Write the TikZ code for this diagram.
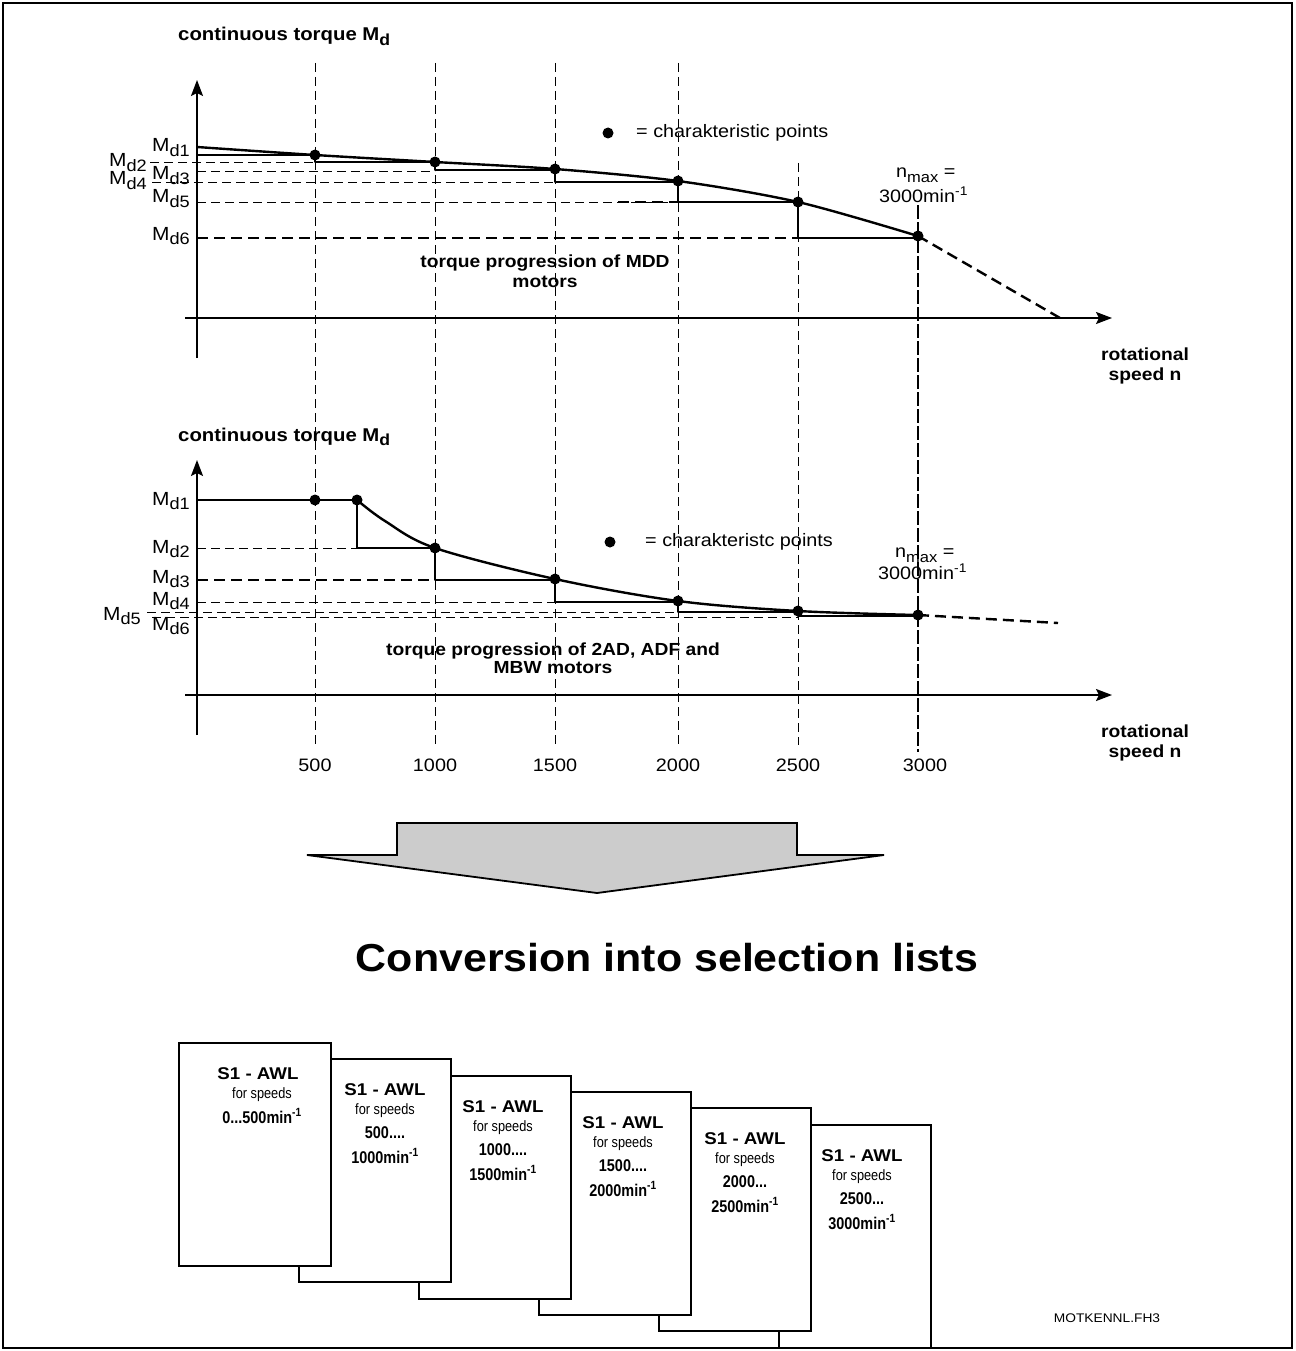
\documentclass[tikz,border=0pt]{standalone}
\usepackage{fontspec}
\setmainfont[FakeStretch=1.1]{Liberation Sans}
\newfontfamily\narrowfont[FakeStretch=0.85]{Liberation Sans}
\usetikzlibrary{arrows.meta}
\newcommand{\fs}[1]{\fontsize{#1}{#1}\selectfont}
\newcommand{\mlab}[1]{M\raisebox{-4.5pt}{\fs{16.5}#1}}
\newcommand{\mnone}{\textsuperscript{-1}}
\begin{document}
\begin{tikzpicture}[x=1pt,y=-1pt,
  txt/.style={font=\fs{18}, inner sep=0pt},
  mtxt/.style={font=\fs{19}, inner sep=0pt},
  btxt/.style={font=\bfseries\fs{17.5}, inner sep=0pt},
  tdash/.style={line width=0.85pt, dash pattern=on 9pt off 5pt},
  kdash/.style={line width=2.4pt, dash pattern=on 11pt off 6pt},
  vdash/.style={line width=2pt, dash pattern=on 14pt off 3pt},
  crv/.style={line width=2.4pt, line join=round},
  axarrow/.style={line width=1.9pt, -{Stealth[length=16pt,width=12pt,inset=3pt]}},
  cardbox/.style={draw, line width=2.2pt, fill=white, minimum width=152pt, minimum height=223pt, anchor=north west, inner sep=0pt},
  ctitle/.style={font=\bfseries\fs{17}, inner sep=0pt},
  csub/.style={font=\narrowfont\fs{15}, inner sep=0pt},
  cval/.style={font=\narrowfont\bfseries\fs{17}, inner sep=0pt},
]
\useasboundingbox (0,0) rectangle (1295,1351);
\draw[line width=2.2pt] (3,3) rectangle (1292,1348);

% ---------- vertical guide lines ----------
\foreach \xx in {315,435,555,678} \draw[tdash] (\xx,63) -- (\xx,745);
\draw[tdash] (798,163) -- (798,745);
\draw[vdash] (918,205) -- (918,752);

% ================= TOP CHART =================
\draw[axarrow] (185,318) -- (1112,318);
\draw[axarrow] (197,358) -- (197,80);

% dashed level lines
\draw[tdash] (150,162) -- (315,162);
\draw[tdash] (197,171) -- (435,171);
\draw[tdash] (152,182) -- (555,182);
\draw[tdash] (197,202) -- (678,202);
\draw[kdash] (618,202) -- (678,202);
\draw[kdash] (197,238) -- (798,238);

% steps
\draw[crv] (197,155) -- (315,155) -- (315,162) -- (435,162) -- (435,170) -- (555,170)
  -- (555,182) -- (678,182) -- (678,202) -- (798,202) -- (798,238) -- (918,238);
% curve
\draw[crv] plot[smooth, tension=0.5] coordinates {(197,147) (315,155) (435,162) (555,169) (678,181) (798,202) (918,236)};
\draw[kdash] (918,236) -- (1060,318);
\foreach \p in {(315,155),(435,162),(555,169),(678,181),(798,202),(918,236)} \fill \p circle[radius=5.5pt];

% labels
\node[btxt, font=\bfseries\fs{18.5}, anchor=base west] (ylabA) at (178,41) {continuous torque M\raisebox{-4.5pt}{\fs{16}d}};
\node[mtxt, anchor=base east] (a1) at (190,152) {\mlab{d1}};
\node[mtxt, anchor=base east] (a2) at (147,167) {\mlab{d2}};
\node[mtxt, anchor=base east] (a3) at (190,180) {\mlab{d3}};
\node[mtxt, anchor=base east] (a4) at (147,185) {\mlab{d4}};
\node[mtxt, anchor=base east] (a5) at (190,203) {\mlab{d5}};
\node[mtxt, anchor=base east] (a6) at (190,240) {\mlab{d6}};
\fill (608,133) circle[radius=5.5pt];
\node[txt, anchor=west] (legA) at (636,133) {= charakteristic points};
\node[txt, anchor=base west] (nmaxA) at (896,178) {n\raisebox{-5pt}{\fs{15}max} =};
\node[txt, anchor=base west] (nvalA) at (879,202) {3000min\mnone};
\node[btxt, align=center] (progA) at (545,271) {torque progression of MDD\\[2pt]motors};
\node[btxt, align=center] (xlabA) at (1145,366) {rotational\\[2pt]speed n};

% ================= BOTTOM CHART =================
\draw[axarrow] (185,695) -- (1112,695);
\draw[axarrow] (197,735) -- (197,460);

\draw[tdash] (197,548) -- (357,548);
\draw[kdash] (197,580) -- (435,580);
\draw[tdash] (197,602) -- (555,602);
\draw[tdash] (147,612) -- (678,612);
\draw[tdash] (152,617) -- (798,617);

\draw[crv] (197,500) -- (357,500) -- (357,548) -- (435,548) -- (435,580) -- (555,580)
  -- (555,602) -- (678,602) -- (678,612) -- (798,612) -- (798,616) -- (918,616);
\draw[crv] plot[smooth, tension=0.55] coordinates {(357,500) (385,521) (435,548) (555,579) (678,601) (798,611) (918,615)};
\draw[kdash] (918,615) -- (1058,623);
\foreach \p in {(315,500),(357,500),(435,548),(555,579),(678,601),(798,611),(918,615)} \fill \p circle[radius=5.5pt];

\node[btxt, font=\bfseries\fs{18.5}, anchor=base west] (ylabB) at (178,441) {continuous torque M\raisebox{-4.5pt}{\fs{16}d}};
\node[mtxt, anchor=base east] (b1) at (190,505) {\mlab{d1}};
\node[mtxt, anchor=base east] (b2) at (190,553) {\mlab{d2}};
\node[mtxt, anchor=base east] (b3) at (190,583) {\mlab{d3}};
\node[mtxt, anchor=base east] (b4) at (190,605) {\mlab{d4}};
\node[mtxt, anchor=base east] (b5) at (141,620) {\mlab{d5}};
\node[mtxt, anchor=base east] (b6) at (190,630) {\mlab{d6}};
\fill (610,542) circle[radius=5.5pt];
\node[txt, anchor=west] (legB) at (645,542) {= charakteristc points};
\node[txt, anchor=base west] (nmaxB) at (895,557) {n\raisebox{-5pt}{\fs{15}max} =};
\node[txt, anchor=base west] (nvalB) at (878,579) {3000min\mnone};
\node[btxt, align=center] (progB) at (553,658) {torque progression of 2AD, ADF and\\[1pt]MBW motors};
\node[btxt, align=center] (xlabB) at (1145,743) {rotational\\[2pt]speed n};

\node[txt] (t500) at (315,765) {500};
\node[txt] (t1000) at (435,765) {1000};
\node[txt] (t1500) at (555,765) {1500};
\node[txt] (t2000) at (678,765) {2000};
\node[txt] (t2500) at (798,765) {2500};
\node[txt] (t3000) at (925,765) {3000};

% ================= BIG ARROW =================
\draw[fill=black!20, line width=1.8pt, line join=miter]
  (307,855) -- (397,855) -- (397,823) -- (797,823) -- (797,855) -- (884,855) -- (597,893) -- cycle;

\node[font=\bfseries\fs{39}, inner sep=0pt] (title) at (667,958) {Conversion into selection lists};

% ================= CARDS =================
\node[cardbox] (card6) at (778,1124) {};
\node[cardbox] (card5) at (658,1107) {};
\node[cardbox] (card4) at (538,1091) {};
\node[cardbox] (card3) at (418,1075) {};
\node[cardbox] (card2) at (298,1058) {};
\node[cardbox] (card1) at (178,1042) {};

\node[ctitle] (c1a) at (258,1074) {S1 - AWL};
\node[csub]   (c1b) at (262,1095) {for speeds};
\node[cval]   (c1c) at (262,1116) {0...500min\mnone};

\node[ctitle] (c2a) at (385,1090) {S1 - AWL};
\node[csub]   (c2b) at (385,1111) {for speeds};
\node[cval]   (c2c) at (385,1133) {500....};
\node[cval]   (c2d) at (385,1156) {1000min\mnone};

\node[ctitle] (c3a) at (503,1107) {S1 - AWL};
\node[csub]   (c3b) at (503,1128) {for speeds};
\node[cval]   (c3c) at (503,1150) {1000....};
\node[cval]   (c3d) at (503,1173) {1500min\mnone};

\node[ctitle] (c4a) at (623,1123) {S1 - AWL};
\node[csub]   (c4b) at (623,1144) {for speeds};
\node[cval]   (c4c) at (623,1166) {1500....};
\node[cval]   (c4d) at (623,1189) {2000min\mnone};

\node[ctitle] (c5a) at (745,1139) {S1 - AWL};
\node[csub]   (c5b) at (745,1160) {for speeds};
\node[cval]   (c5c) at (745,1182) {2000...};
\node[cval]   (c5d) at (745,1205) {2500min\mnone};

\node[ctitle] (c6a) at (862,1156) {S1 - AWL};
\node[csub]   (c6b) at (862,1177) {for speeds};
\node[cval]   (c6c) at (862,1199) {2500...};
\node[cval]   (c6d) at (862,1222) {3000min\mnone};

\node[font=\fs{12.5}, inner sep=0pt] (fname) at (1107,1318) {MOTKENNL.FH3};
\end{tikzpicture}
\end{document}
